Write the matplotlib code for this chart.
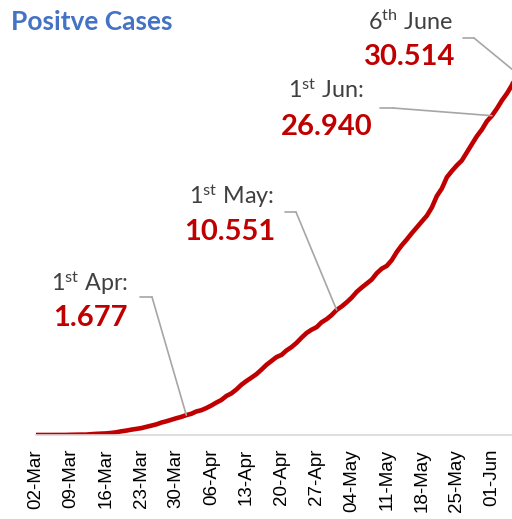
"""Positive cases - cumulative line with callouts"""
import numpy as np
import pandas as pd
import matplotlib
matplotlib.use("Agg")
import matplotlib.pyplot as plt
import matplotlib.dates as mdates

plt.rcParams.update({
    "font.family": ["Lato", "DejaVu Sans"],
    "mathtext.fontset": "custom",
    "mathtext.rm": "Lato",
    "mathtext.it": "Lato:italic",
    "mathtext.bf": "Lato:bold",
})

START = "2020-03-02"
END = "2020-06-06"
CASES = [
    2, 2, 2, 2, 4, 4, 6, 19, 27, 34, 34, 69, 96, 117, 134, 172, 227, 309, 369, 450,
    514, 579, 686, 790, 893, 1046, 1155, 1285, 1414, 1528,
    1677, 1790, 1986, 2092, 2273, 2491, 2738, 2956, 3293, 3512, 3842, 4241, 4557, 4839,
    5136, 5516, 5923, 6248, 6575, 6760, 7135, 7418, 7775, 8211, 8607, 8882, 9096, 9511,
    9771, 10118,
    10551, 10843, 11192, 11587, 12071, 12438, 12776, 13112, 13645, 14032, 14265, 14749,
    15438, 16006, 16496, 17025, 17514, 18010, 18496, 19189, 20162, 20796, 21745, 22271,
    22750, 23165, 23851, 24538, 25216, 25773, 26473,
    26940, 27549, 28233, 28818, 29521, 30514,
]
CALLOUT_DATES = ["2020-04-01", "2020-05-01", "2020-06-01", "2020-06-06"]
CALLOUT_LABELS = ["1$^{\\mathrm{st}}$ Apr:", "1$^{\\mathrm{st}}$ May:",
                  "1$^{\\mathrm{st}}$ Jun:", "6$^{\\mathrm{th}}$ June"]
CALLOUT_VALUES = ["1.677", "10.551", "26.940", "30.514"]

# text centre (image px), leader start, leader kink
CALLOUT_POS = [
    ((90, 283), (90, 318), (140, 297), (152, 297)),
    ((232, 196), (230, 232), (285, 212), (296, 212)),
    ((326, 90), (327, 127), (380, 108), (393, 108)),
    ((410, 22), (410, 57), (463, 38), (474, 38)),
]

W, H = 512, 519
RED = "#C00000"
GREY_LINE = "#A6A6A6"

dates = pd.date_range(START, END, freq="D")
s = pd.Series(CASES, index=dates)

fig = plt.figure(figsize=(W / 100, H / 100), dpi=100)
ax = fig.add_axes([36 / W, (H - 435) / H, 481 / W, 435 / H])
ax.plot(s.index, s.values, color=RED, lw=3.3, solid_capstyle="round")
ax.set_xlim(dates[0], dates[-1])
ax.set_ylim(0, 36700)

for sp in ["top", "right", "left"]:
    ax.spines[sp].set_visible(False)
ax.spines["bottom"].set_color("#D9D9D9")
ax.spines["bottom"].set_linewidth(1.2)
ax.set_yticks([])
ticks = pd.date_range(START, "2020-06-01", freq="7D")
ax.set_xticks(ticks)
ax.xaxis.set_major_formatter(mdates.DateFormatter("%d-%b"))
ax.tick_params(axis="x", length=0, pad=10, labelsize=13.5, labelcolor="black", rotation=90)
for t in ax.get_xticklabels():
    t.set_fontfamily(["Liberation Sans", "DejaVu Sans"])

fig.text(11 / W, 1 - 22 / H, "Positve Cases", color="#4472C4", fontsize=19,
         fontweight="bold", ha="left", va="center")

for d, lab, val, pos in zip(CALLOUT_DATES, CALLOUT_LABELS, CALLOUT_VALUES, CALLOUT_POS):
    (lx, ly), (vx, vy), (sx, sy), (kx, ky) = pos
    fig.text(lx / W, 1 - ly / H, lab, color="#404040", fontsize=16.8, ha="center", va="center")
    fig.text(vx / W, 1 - vy / H, val, color=RED, fontsize=21, fontweight="bold",
             ha="center", va="center")
    ax.annotate("", xy=(kx, H - ky), xycoords="figure pixels",
                xytext=(sx, H - sy), textcoords="figure pixels",
                arrowprops=dict(arrowstyle="-", color=GREY_LINE, lw=1.2, shrinkA=0, shrinkB=0))
    ax.annotate("", xy=(pd.Timestamp(d), s[d]), xycoords="data",
                xytext=(kx, H - ky), textcoords="figure pixels",
                arrowprops=dict(arrowstyle="-", color=GREY_LINE, lw=1.2, shrinkA=0, shrinkB=0),
                annotation_clip=False)

fig.savefig("out.png", dpi=100)
